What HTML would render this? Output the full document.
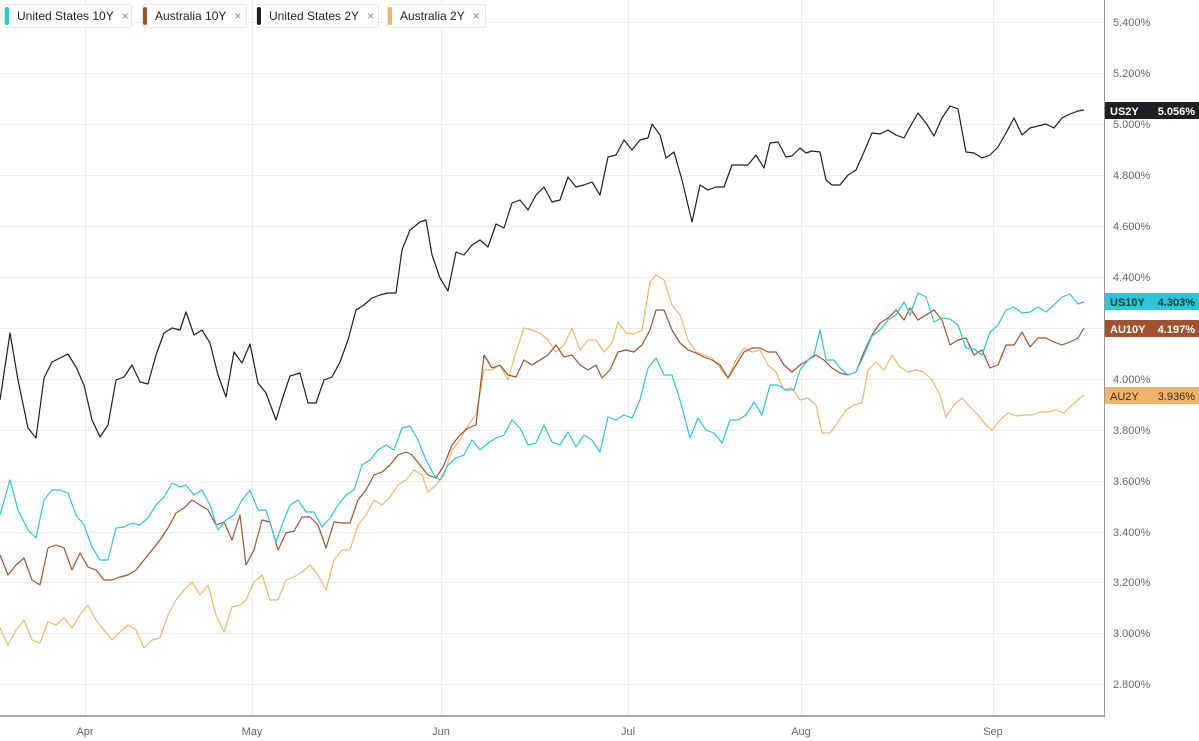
<!DOCTYPE html>
<html><head><meta charset="utf-8"><style>
body{margin:0;background:#fff;width:1199px;height:741px;overflow:hidden;font-family:"Liberation Sans",sans-serif}
.leg{position:absolute;top:4px;height:24px;border:1px solid #e6e6e6;border-radius:3px;background:#fff;box-sizing:border-box;font-size:12px;color:#222;line-height:22px;padding-left:12px}
.leg i{position:absolute;left:0;top:2px;bottom:2px;width:4px;border-radius:2px}
.leg span{color:#888;margin-left:8px;font-size:12px}
</style></head><body>
<svg width="1199" height="741" style="position:absolute;left:0;top:0" font-family="Liberation Sans, sans-serif">
<g stroke="#ececec" stroke-width="1">
<line x1="0" x2="1104" y1="22.5" y2="22.5"/><line x1="0" x2="1104" y1="73.5" y2="73.5"/><line x1="0" x2="1104" y1="124.5" y2="124.5"/><line x1="0" x2="1104" y1="175.5" y2="175.5"/><line x1="0" x2="1104" y1="226.5" y2="226.5"/><line x1="0" x2="1104" y1="277.5" y2="277.5"/><line x1="0" x2="1104" y1="328.5" y2="328.5"/><line x1="0" x2="1104" y1="379.5" y2="379.5"/><line x1="0" x2="1104" y1="430.5" y2="430.5"/><line x1="0" x2="1104" y1="481.5" y2="481.5"/><line x1="0" x2="1104" y1="532.5" y2="532.5"/><line x1="0" x2="1104" y1="582.5" y2="582.5"/><line x1="0" x2="1104" y1="633.5" y2="633.5"/><line x1="0" x2="1104" y1="684.5" y2="684.5"/>
<line x1="85.5" x2="85.5" y1="0" y2="716"/><line x1="252.5" x2="252.5" y1="0" y2="716"/><line x1="441.5" x2="441.5" y1="0" y2="716"/><line x1="628.5" x2="628.5" y1="0" y2="716"/><line x1="801.5" x2="801.5" y1="0" y2="716"/><line x1="993.5" x2="993.5" y1="0" y2="716"/>
</g>
<line x1="0" x2="1104" y1="716" y2="716" stroke="#aaa" stroke-width="2"/>
<line x1="1104.5" x2="1104.5" y1="0" y2="717" stroke="#999" stroke-width="1"/>
<g font-size="11" fill="#666">
<text x="1113" y="26">5.400%</text><text x="1113" y="77">5.200%</text><text x="1113" y="128">5.000%</text><text x="1113" y="179">4.800%</text><text x="1113" y="230">4.600%</text><text x="1113" y="281">4.400%</text><text x="1113" y="383">4.000%</text><text x="1113" y="434">3.800%</text><text x="1113" y="485">3.600%</text><text x="1113" y="536">3.400%</text><text x="1113" y="586">3.200%</text><text x="1113" y="637">3.000%</text><text x="1113" y="688">2.800%</text>
</g>
<g font-size="11" fill="#666" text-anchor="middle">
<text x="85" y="735">Apr</text><text x="252" y="735">May</text><text x="441" y="735">Jun</text><text x="628" y="735">Jul</text><text x="801" y="735">Aug</text><text x="993" y="735">Sep</text>
</g>
<g fill="none" stroke-width="1.2" stroke-linejoin="round">
<polyline stroke="#f2b46c" points="0,628 8,645 16,630 24,620 32,640 40,643 48,622 56,625 64,618 72,628 80,615 88,605 96,620 104,630 112,640 120,632 128,625 136,630 144,648 152,640 160,638 168,615 176,600 184,590 192,582 200,595 208,585 216,615 224,632 232,607 240,605 246,600 254,582 262,575 270,600 278,600 286,580 294,577 302,572 310,565 318,575 326,590 334,560 342,550 350,550 358,525 366,515 374,500 382,505 390,497 398,485 406,480 414,470 422,475 428,492 436,485 444,475 452,450 460,440 468,425 476,415 484,370 492,370 500,365 508,380 516,352 524,328 532,330 540,333 548,340 556,352 564,345 572,328 580,350 588,340 596,340 604,352 612,343 618,322 626,333 634,334 642,330 650,282 656,275 664,280 672,305 680,315 688,340 696,352 704,355 712,358 720,368 728,378 736,360 744,348 752,352 760,350 768,365 776,372 784,390 792,388 800,400 808,398 816,405 822,433 830,433 838,422 846,410 854,405 862,403 868,370 876,362 884,370 892,355 900,367 908,372 916,370 924,372 932,380 940,395 946,417 954,405 962,398 970,407 978,415 986,425 992,430 1000,420 1008,413 1016,416 1024,415 1032,415 1040,412 1048,412 1056,410 1064,413 1072,405 1080,398 1084,395"/>
<polyline stroke="#a0522d" points="0,555 8,575 16,565 24,558 32,580 40,585 48,548 56,545 64,548 72,570 80,553 88,567 96,570 104,580 112,580 120,577 128,575 136,570 144,560 152,550 160,540 168,528 176,513 184,508 192,500 200,505 208,510 216,525 224,522 232,540 240,515 246,565 254,550 262,520 270,522 278,550 286,533 294,531 302,517 310,517 318,525 326,548 334,522 342,523 350,523 358,500 366,490 374,475 382,472 390,465 398,455 406,452 412,455 420,465 428,475 436,478 444,465 452,445 460,435 468,428 476,425 484,355 492,368 500,365 508,375 516,377 524,360 532,365 540,360 548,355 556,345 564,357 572,355 580,365 588,370 596,365 602,378 610,370 618,352 626,350 634,352 642,345 650,330 656,310 664,310 672,330 680,343 688,350 696,353 704,357 712,360 720,365 728,378 736,365 744,352 752,348 760,348 768,352 776,352 784,365 792,372 800,365 808,360 816,355 824,360 832,368 840,373 848,375 856,372 864,352 872,335 880,323 888,318 896,310 904,320 910,308 918,320 926,315 934,310 942,320 950,345 958,340 966,338 974,355 982,350 990,368 998,365 1006,345 1014,345 1022,332 1030,347 1038,338 1046,338 1054,342 1062,345 1070,342 1078,338 1084,328"/>
<polyline stroke="#2ec5d6" points="0,515 10,480 18,510 28,530 36,538 44,500 52,490 60,490 68,493 76,515 84,525 92,547 100,560 108,560 116,528 124,527 132,523 140,525 148,518 156,505 164,497 172,483 180,487 186,485 194,495 202,490 210,505 218,530 226,520 234,515 242,500 250,490 258,510 266,510 276,542 282,525 290,505 298,500 306,512 314,512 322,527 330,518 338,505 346,495 354,490 362,465 370,460 378,450 386,445 394,450 402,428 410,426 418,440 426,460 434,475 440,480 448,465 456,458 464,455 472,440 480,450 488,443 496,438 504,435 512,420 520,428 528,445 536,443 544,425 552,442 560,445 568,432 576,447 584,435 592,440 600,452 608,417 616,420 624,415 632,418 640,400 648,368 656,358 664,375 672,375 680,400 690,438 698,418 706,430 714,433 722,443 730,420 738,420 746,415 754,402 762,415 770,385 778,385 786,390 794,390 800,370 808,360 814,355 820,330 826,360 834,360 840,368 848,375 856,372 864,355 872,336 880,330 888,320 896,315 904,302 910,315 918,293 926,297 934,322 942,318 950,319 958,325 966,348 974,349 982,355 990,332 998,325 1006,310 1014,307 1022,313 1030,312 1038,307 1046,312 1054,305 1062,297 1070,294 1078,304 1084,302"/>
<polyline stroke="#1e1f22" points="0,400 10,333 18,380 28,428 36,438 44,378 52,362 60,358 68,354 76,367 84,385 92,420 100,437 108,425 116,380 124,377 132,365 140,382 148,384 156,355 164,333 172,328 180,330 186,312 194,335 202,330 210,343 218,375 226,397 234,352 242,363 250,344 258,383 266,393 276,420 282,400 290,376 300,373 308,403 316,403 324,380 332,377 340,362 348,340 356,310 364,305 372,298 380,295 388,293 396,293 402,250 410,230 420,222 426,220 432,255 440,278 448,291 456,252 464,255 472,245 480,240 488,247 496,224 504,228 512,203 520,200 528,210 536,195 544,187 552,202 560,200 568,177 576,187 584,185 592,182 600,195 608,157 616,155 624,140 632,150 640,140 648,138 652,124 660,135 666,158 674,152 682,180 692,222 700,185 708,190 716,187 724,187 732,165 740,165 748,165 756,155 764,168 770,143 778,142 786,157 792,156 800,148 806,153 812,151 820,152 826,180 832,185 840,185 848,175 856,170 864,152 872,133 880,134 888,130 896,135 904,138 910,127 918,113 926,123 934,136 942,118 950,106 958,109 966,152 974,153 982,158 990,155 998,147 1006,133 1014,118 1022,135 1030,128 1038,126 1046,124 1054,128 1062,118 1070,114 1078,111 1084,110"/>
</g>
<g font-size="11" font-weight="bold">
<rect x="1105" y="102" width="94" height="17" fill="#1e1f22"/><text x="1110" y="115" fill="#fff">US2Y</text><text x="1195" y="115" fill="#fff" text-anchor="end">5.056%</text>
<rect x="1105" y="293" width="94" height="17" fill="#2ec5d6"/><text x="1110" y="306" fill="#1a3a44">US10Y</text><text x="1195" y="306" fill="#1a3a44" text-anchor="end">4.303%</text>
<rect x="1105" y="320" width="94" height="17" fill="#a0522d"/><text x="1110" y="333" fill="#fff">AU10Y</text><text x="1195" y="333" fill="#fff" text-anchor="end">4.197%</text>
<rect x="1105" y="387" width="94" height="17" fill="#f2b46c"/><text x="1110" y="400" fill="#3a2a10" font-weight="normal">AU2Y</text><text x="1195" y="400" fill="#3a2a10" text-anchor="end" font-weight="normal">3.936%</text>
</g>
</svg>
<div class="leg" style="left:4px;width:128px"><i style="background:#2ec5d6"></i>United States 10Y<span>×</span></div>
<div class="leg" style="left:142px;width:105px"><i style="background:#a0522d"></i>Australia 10Y<span>×</span></div>
<div class="leg" style="left:256px;width:123px"><i style="background:#1e1f22"></i>United States 2Y<span>×</span></div>
<div class="leg" style="left:387px;width:99px"><i style="background:#f2b46c"></i>Australia 2Y<span>×</span></div>
</body></html>
